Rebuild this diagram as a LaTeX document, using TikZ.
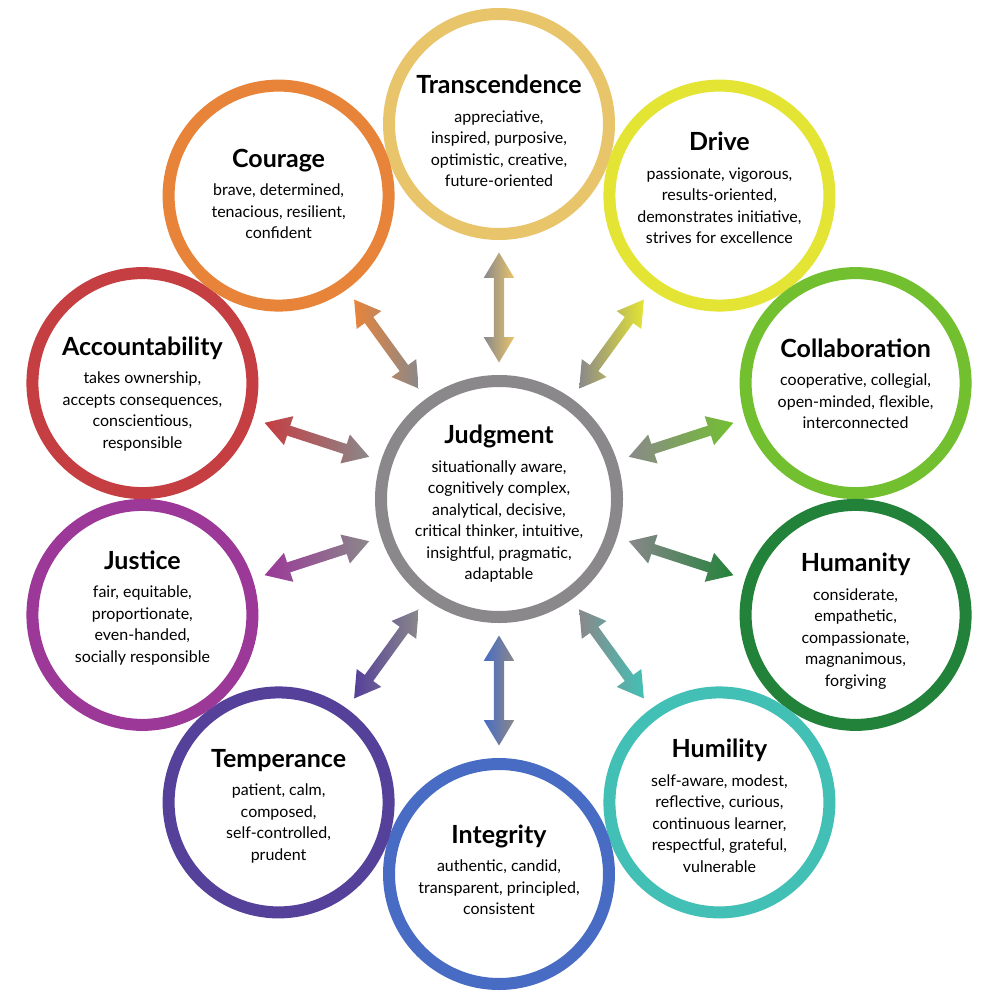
\documentclass[tikz,border=0pt]{standalone}
\usepackage{fontspec}
\setmainfont{Lato}
\usetikzlibrary{shapes.arrows}

\definecolor{judggray}{RGB}{138,136,138}
\definecolor{trancol}{RGB}{232,196,106}
\definecolor{drivcol}{RGB}{228,228,52}
\definecolor{collcol}{RGB}{114,192,48}
\definecolor{humacol}{RGB}{35,130,58}
\definecolor{humicol}{RGB}{67,192,181}
\definecolor{intecol}{RGB}{72,108,196}
\definecolor{tempcol}{RGB}{85,64,154}
\definecolor{justcol}{RGB}{155,56,152}
\definecolor{accocol}{RGB}{197,62,66}
\definecolor{courcol}{RGB}{232,132,58}

\newcommand{\titlefont}{\fontsize{25}{28}\selectfont\bfseries}
\newcommand{\bodyfont}{\fontsize{16}{21.5}\selectfont}

\begin{document}
\begin{tikzpicture}[
      x=1pt, y=-1pt,
      virtue/.style={
         circle,
         draw=#1,
         line width=12pt,
         minimum size=220pt,
         inner sep=0pt
      },
      core/.style={
         circle,
         draw=judggray,
         line width=12pt,
         minimum size=236pt,
         inner sep=0pt
      },
      traits/.style={align=center, font=\bodyfont, inner sep=0pt},
      link/.style={
         double arrow,
         sloped,
         draw=none, inner xsep=0pt, inner ysep=5pt,
         minimum height=110pt, minimum width=30pt,
         double arrow head extend=10pt,
         double arrow tip angle=62,
         left color=judggray, right color=#1
      },
      linkback/.style={link=#1, left color=#1, right color=judggray}
    ]
    \useasboundingbox[fill=white] (0,0) rectangle (1000,1000);

    % circles
    \node (judg) [core] at (499,499) {};
    \node (tran) [virtue=trancol] at (499,124) {};
    \node (driv) [virtue=drivcol] at (719.4,195.6) {};
    \node (coll) [virtue=collcol] at (855.6,383.1) {};
    \node (huma) [virtue=humacol] at (855.6,614.9) {};
    \node (humi) [virtue=humicol] at (719.4,802.4) {};
    \node (inte) [virtue=intecol] at (499,874) {};
    \node (temp) [virtue=tempcol] at (278.6,802.4) {};
    \node (just) [virtue=justcol] at (142.4,614.9) {};
    \node (acco) [virtue=accocol] at (142.4,383.1) {};
    \node (cour) [virtue=courcol] at (278.6,195.6) {};

    % texts
    \node (judg-t) [traits] at (499,504) {{\titlefont Judgment}\\[7pt]
      situationally aware,\\ cognitively complex,\\ analytical, decisive,\\
      critical thinker, intuitive,\\ insightful, pragmatic,\\ adaptable};
    \node (tran-t) [traits] at (499,131) {{\titlefont Transcendence}\\[7pt]
      appreciative,\\ inspired, purposive,\\ optimistic, creative,\\ future-oriented};
    \node (driv-t) [traits] at (719.4,188) {{\titlefont Drive}\\[7pt]
      passionate, vigorous,\\ results-oriented,\\ demonstrates initiative,\\ strives for excellence};
    \node (coll-t) [traits] at (855.6,384) {{\titlefont Collaboration}\\[7pt]
      cooperative, collegial,\\ open-minded, flexible,\\ interconnected};
    \node (huma-t) [traits] at (855.6,621) {{\titlefont Humanity}\\[7pt]
      considerate,\\ empathetic,\\ compassionate,\\ magnanimous,\\ forgiving};
    \node (humi-t) [traits] at (719.4,806) {{\titlefont Humility}\\[7pt]
      self-aware, modest,\\ reflective, curious,\\ continuous learner,\\ respectful, grateful,\\ vulnerable};
    \node (inte-t) [traits] at (499,870) {{\titlefont Integrity}\\[7pt]
      authentic, candid,\\ transparent, principled,\\ consistent};
    \node (temp-t) [traits] at (278.6,806) {{\titlefont Temperance}\\[7pt]
      patient, calm,\\ composed,\\ self-controlled,\\ prudent};
    \node (just-t) [traits] at (142.4,608) {{\titlefont Justice}\\[7pt]
      fair, equitable,\\ proportionate,\\ even-handed,\\ socially responsible};
    \node (acco-t) [traits] at (142.4,394) {{\titlefont Accountability}\\[7pt]
      takes ownership,\\ accepts consequences,\\ conscientious,\\ responsible};
    \node (cour-t) [traits] at (278.6,194) {{\titlefont Courage}\\[7pt]
      brave, determined,\\ tenacious, resilient,\\ confident};

    % arrows
    \path (judg) -- node [link=trancol] {} (tran);
    \path (judg) -- node [link=drivcol] {} (driv);
    \path (judg) -- node [link=collcol] {} (coll);
    \path (judg) -- node [link=humacol] {} (huma);
    \path (judg) -- node [link=humicol] {} (humi);
    \path (judg) -- node [linkback=intecol] {} (inte);
    \path (judg) -- node [linkback=tempcol] {} (temp);
    \path (judg) -- node [linkback=justcol] {} (just);
    \path (judg) -- node [linkback=accocol] {} (acco);
    \path (judg) -- node [linkback=courcol] {} (cour);
\end{tikzpicture}
\end{document}
